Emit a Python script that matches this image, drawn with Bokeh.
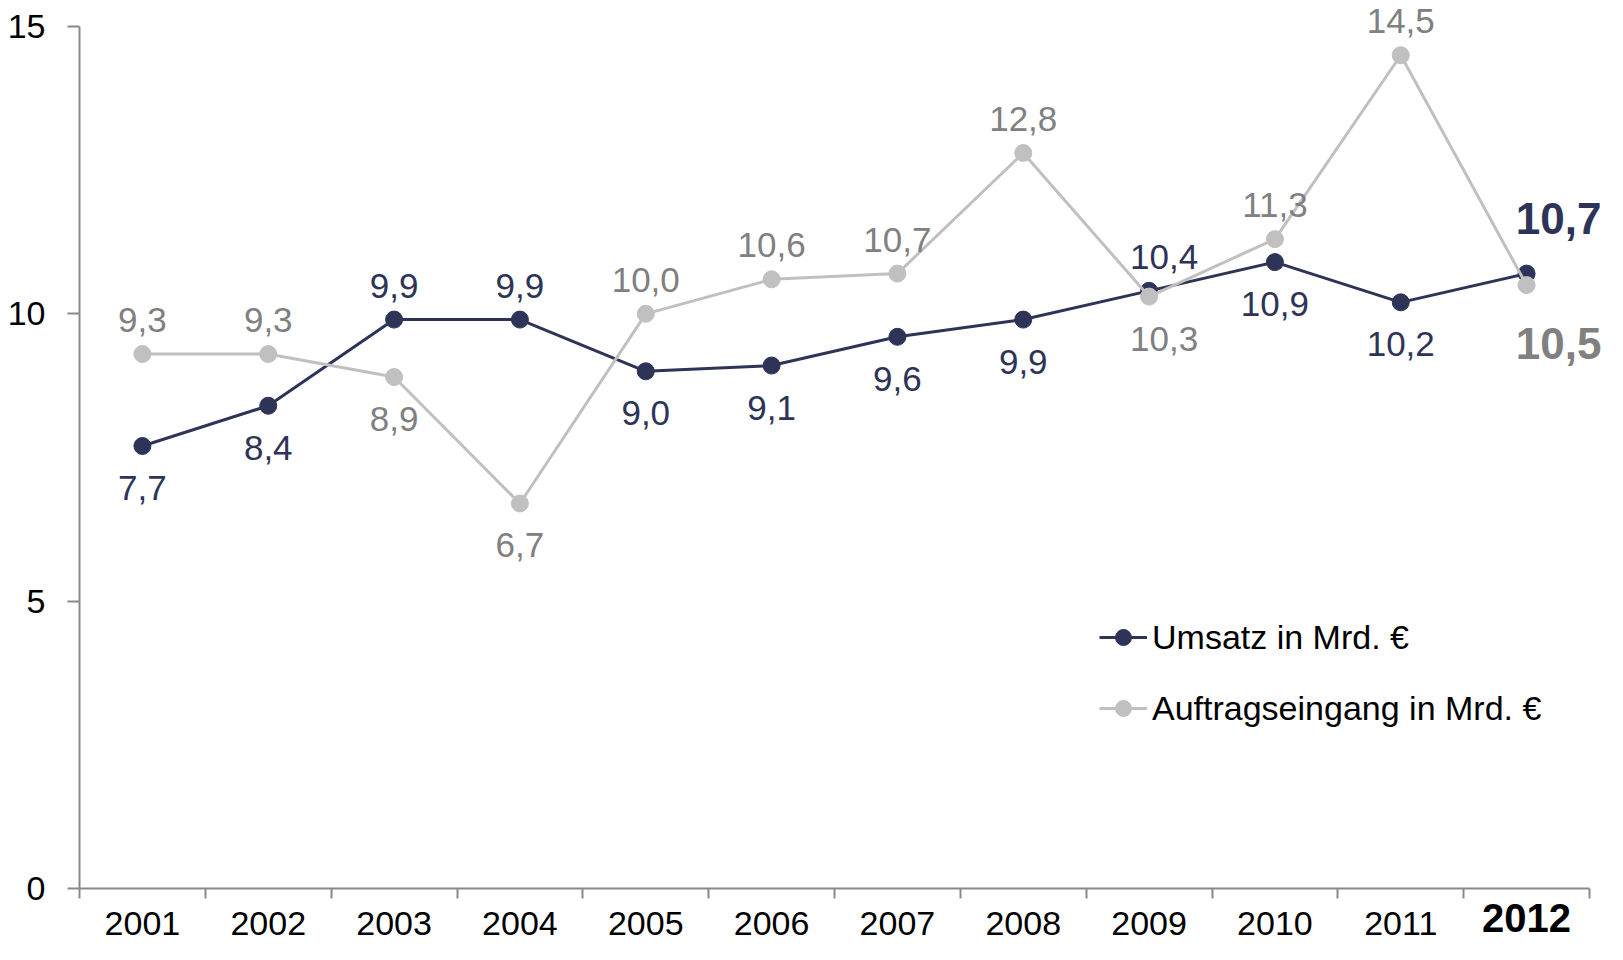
from bokeh.plotting import figure
from bokeh.models import (ColumnDataSource, LabelSet, Legend, LegendItem,
                          FixedTicker, Range1d, LinearAxis)
from bokeh.core.properties import value
from bokeh.embed import file_html
from bokeh.resources import INLINE

# ---------------- data ----------------
years = ["2001", "2002", "2003", "2004", "2005", "2006",
         "2007", "2008", "2009", "2010", "2011", "2012"]
umsatz = [7.7, 8.4, 9.9, 9.9, 9.0, 9.1, 9.6, 9.9, 10.4, 10.9, 10.2, 10.7]
auftrag = [9.3, 9.3, 8.9, 6.7, 10.0, 10.6, 10.7, 12.8, 10.3, 11.3, 14.5, 10.5]
y_ticks = [0, 5, 10, 15]
series_names = ["Umsatz in Mrd. €", "Auftragseingang in Mrd. €"]

# label placement (above / below the point)
umsatz_pos = ["below", "below", "above", "above", "below", "below",
              "below", "below", "above", "below", "below", "above"]
auftrag_pos = ["above", "above", "below", "below", "above", "above",
               "above", "above", "below", "above", "above", "below"]

# ---------------- style ----------------
NAVY = "#2d3457"
GRAY = "#c0c0c0"
GRAY_TXT = "#808080"
AXIS = "#898989"
FONT = "Liberation Sans"
UP, DOWN = 34, -42

n = len(years)
xs = [i + 0.5 for i in range(n)]
Y_MAX = 15


def fmt(v):
    return f"{v:.1f}".replace(".", ",")


# frame is a little larger than the axes (room for labels); axes use bounds
FRAME_W, AX_W = 1528, 1510
FRAME_H, AX_H = 886, 862
x_end = n * FRAME_W / AX_W
y_end = Y_MAX * FRAME_H / AX_H

p = figure(width=1607, height=944,
           x_range=Range1d(0, x_end), y_range=Range1d(0, y_end),
           output_backend="svg", toolbar_location=None,
           min_border_left=79, min_border_right=0,
           min_border_top=2, min_border_bottom=56)
p.outline_line_color = None
p.xgrid.visible = False
p.ygrid.visible = False
p.background_fill_color = "white"
p.border_fill_color = "white"

# x axis: labels at category centres, tick marks at category boundaries
xa = p.below[0]
xa.bounds = (0, n)
xa.ticker = FixedTicker(ticks=xs, minor_ticks=list(range(n + 1)))
overrides = {x: y for x, y in zip(xs, years)}
overrides[xs[-1]] = ""
xa.major_label_overrides = overrides
xa.major_tick_line_color = None
xa.major_tick_out = 10
xa.major_tick_in = 0
xa.minor_tick_out = 10
xa.minor_tick_in = 0
xa.minor_tick_line_color = AXIS
xa.minor_tick_line_width = 2
xa.axis_line_color = AXIS
xa.axis_line_width = 2
xa.major_label_text_font = FONT
xa.major_label_text_font_size = "34px"
xa.major_label_text_color = "black"
xa.major_label_standoff = 13

# second x axis carrying only the bold last year label, pulled up
bold_axis = LinearAxis(ticker=FixedTicker(ticks=[xs[-1]], minor_ticks=[]),
                       major_label_overrides={xs[-1]: years[-1]},
                       bounds=(0, n))
bold_axis.axis_line_color = None
bold_axis.major_tick_line_color = None
bold_axis.minor_tick_line_color = None
bold_axis.major_tick_out = 0
bold_axis.major_tick_in = 0
bold_axis.major_label_text_font = FONT
bold_axis.major_label_text_font_size = "40px"
bold_axis.major_label_text_font_style = "bold"
bold_axis.major_label_text_color = "black"
bold_axis.major_label_standoff = -34
p.add_layout(bold_axis, "below")

# y axis
ya = p.left[0]
ya.bounds = (0, Y_MAX)
ya.ticker = FixedTicker(ticks=y_ticks, minor_ticks=[])
ya.major_tick_out = 12
ya.major_tick_in = 0
ya.major_tick_line_color = AXIS
ya.major_tick_line_width = 2
ya.minor_tick_line_color = None
ya.axis_line_color = AXIS
ya.axis_line_width = 2
ya.major_label_text_font = FONT
ya.major_label_text_font_size = "34px"
ya.major_label_text_color = "black"
ya.major_label_standoff = 22

src = ColumnDataSource(dict(x=xs, umsatz=umsatz, auftrag=auftrag))

r1 = p.line("x", "umsatz", source=src, line_color=NAVY, line_width=3)
s1 = p.scatter("x", "umsatz", source=src, size=17, fill_color=NAVY,
               line_color=NAVY)
r2 = p.line("x", "auftrag", source=src, line_color=GRAY, line_width=3)
s2 = p.scatter("x", "auftrag", source=src, size=17, fill_color=GRAY,
               line_color=GRAY)

# data labels (all but the last year)
lab_src = ColumnDataSource(dict(
    x=xs[:-1] + xs[:-1],
    y=umsatz[:-1] + auftrag[:-1],
    text=[fmt(v) for v in umsatz[:-1]] + [fmt(v) for v in auftrag[:-1]],
    dy=[UP if s == "above" else DOWN for s in umsatz_pos[:-1]] +
       [UP if s == "above" else DOWN for s in auftrag_pos[:-1]],
    dx=[15 if years[i] == "2009" else 0 for i in range(n - 1)] * 2,
    color=[NAVY] * (n - 1) + [GRAY_TXT] * (n - 1),
))
p.add_layout(LabelSet(x="x", y="y", text="text", source=lab_src,
                      x_offset="dx", y_offset="dy",
                      text_align="center", text_baseline="middle",
                      text_font=value(FONT), text_font_size=value("35px"),
                      text_color="color"))

# last year: bold, larger labels
last_src = ColumnDataSource(dict(
    x=[xs[-1], xs[-1]],
    y=[umsatz[-1], auftrag[-1]],
    text=[fmt(umsatz[-1]), fmt(auftrag[-1])],
    dy=[55 if umsatz_pos[-1] == "above" else -58,
        55 if auftrag_pos[-1] == "above" else -58],
    color=[NAVY, GRAY_TXT],
))
p.add_layout(LabelSet(x="x", y="y", text="text", source=last_src,
                      x_offset=32, y_offset="dy",
                      text_align="center", text_baseline="middle",
                      text_font=value(FONT), text_font_size=value("44px"),
                      text_font_style=value("bold"), text_color="color"))

legend = Legend(items=[LegendItem(label=series_names[0], renderers=[r1, s1]),
                       LegendItem(label=series_names[1], renderers=[r2, s2])],
                location=(1020, 160))
legend.border_line_color = None
legend.background_fill_alpha = 0
legend.padding = 0
legend.margin = 0
legend.spacing = 31
legend.glyph_width = 48
legend.glyph_height = 40
legend.label_height = 40
legend.label_standoff = 5
legend.label_text_font = FONT
legend.label_text_font_size = "34px"
legend.label_text_color = "black"
p.add_layout(legend)

open("out.html", "w").write(file_html(p, INLINE))
